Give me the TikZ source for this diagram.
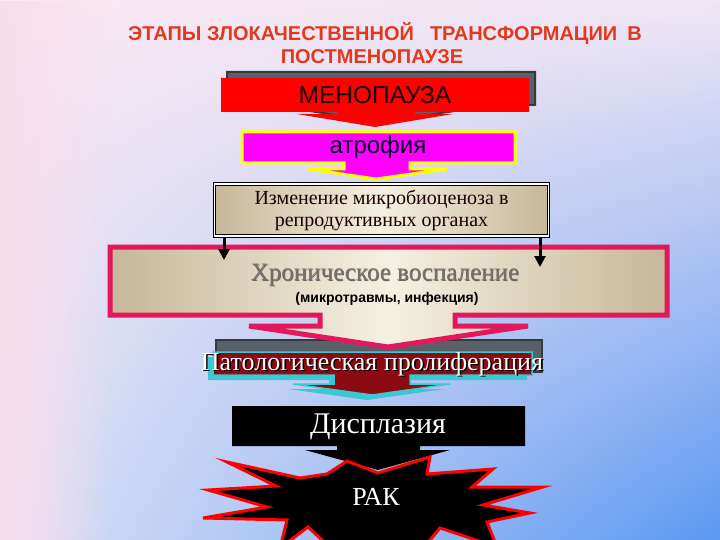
\documentclass[tikz,border=0pt]{standalone}
\usepackage{fontspec}
\setmainfont{Liberation Serif}
\setsansfont{Liberation Sans}
\usetikzlibrary{arrows.meta,fadings,shadings}
\definecolor{bgUL}{HTML}{FAE8F2}
\definecolor{bgUR}{HTML}{F0E6F4}
\definecolor{bgLL}{HTML}{DCE2F6}
\definecolor{bgLR}{HTML}{5C98F2}
\definecolor{pinkedge}{HTML}{F9DDEB}
\definecolor{titlered}{HTML}{E03A1E}
\definecolor{menored}{HTML}{FE0000}
\definecolor{magentab}{HTML}{FF00FF}
\definecolor{yellowb}{HTML}{FFFF00}
\definecolor{shgray}{HTML}{5A6068}
\definecolor{shdark}{HTML}{353A40}
\definecolor{parch1}{HTML}{F5F0E2}
\definecolor{parch2}{HTML}{C6B898}
\definecolor{crimson}{HTML}{E2175C}
\definecolor{graytext}{HTML}{787068}
\definecolor{darkred}{HTML}{8C0A12}
\definecolor{cyanb}{HTML}{3CC8D0}
\tikzset{
  titletext/.style={font=\sffamily\bfseries\fontsize{20}{22}\selectfont, text=titlered, inner sep=0pt},
  shadowbox/.style={fill=shgray, draw=shdark, line width=2pt},
  parchfill/.style={left color=parch2, right color=parch2, middle color=parch1},
  blkarrow/.style={line width=3pt, -{Triangle[length=11pt,width=11pt]}},
}
\begin{document}
\begin{tikzpicture}[x=1pt,y=-1pt]
\useasboundingbox (0,0) rectangle (720,540);
% background
\shade[upper left=bgUL, upper right=bgUR, lower left=bgLL, lower right=bgLR] (0,0) rectangle (720,540);
\fill[pinkedge, path fading=east] (0,0) rectangle (110,540);

% title
\node[titletext] (t1) at (385,33) {ЭТАПЫ ЗЛОКАЧЕСТВЕННОЙ\hspace{0.8em}ТРАНСФОРМАЦИИ\hspace{0.5em}В};
\node[titletext] (t2) at (372,57) {ПОСТМЕНОПАУЗЕ};

% menopause callout
\begin{scope}[shift={(6,-6)}]
\path[shadowbox] (221,78) -- (529,78) -- (529,111) -- (415,111) -- (415,116) -- (455,116) -- (376,128) -- (297,116) -- (337,116) -- (337,111) -- (221,111) -- cycle;
\end{scope}
\fill[menored] (221,78) -- (529,78) -- (529,112) -- (415,112) -- (415,114) -- (453,114) -- (375,127) -- (297,114) -- (337,114) -- (337,112) -- (221,112) -- cycle;
\node[font=\sffamily\fontsize{24.5}{26}\selectfont, text=black!90!red] (meno) at (375,95) {МЕНОПАУЗА};

% atrophy callout
\path[fill=magentab, draw=yellowb, line width=3pt] (242,132) -- (515,132) -- (515,163) -- (410,163) -- (410,169) -- (447,169) -- (376,179) -- (308,169) -- (344,169) -- (344,163) -- (242,163) -- cycle;
\node[font=\sffamily\fontsize{24}{26}\selectfont, text=black!85!blue] (atro) at (378,147) {атрофия};

% proliferation shadow frame (lies under the chronic arrow tip)
\path[shadowbox] (216,340) rectangle (542,372);

% chronic inflammation callout
\path[parchfill, draw=crimson, line width=5pt] (110,247) -- (667,247) -- (667,315) -- (455,315) -- (455,326) -- (528,326) -- (388,347) -- (249,326) -- (320,326) -- (320,315) -- (110,315) -- cycle;
\node[font=\fontsize{25}{27}\selectfont, text=black!60] (chronsh) at (385.6,275.6) {Хроническое воспаление};
\node[font=\fontsize{25}{27}\selectfont, text=graytext] (chron) at (385,275) {Хроническое воспаление};
\node[font=\sffamily\bfseries\fontsize{14}{16}\selectfont, text=black] (chronsub) at (387,299) {(микротравмы, инфекция)};

% microbiocenosis box
\node[parchfill, draw=black, line width=1.2pt, double=white, double distance=1.5pt,
      minimum width=334pt, minimum height=52pt, inner sep=0pt, align=center,
      font=\fontsize{20}{22}\selectfont, text=black!90!red] (mikro) at (381.5,210)
      {Изменение микробиоценоза в\\репродуктивных органах};

% arrows from microbiocenosis to chronic inflammation
\coordinate (lt) at (224,260);
\coordinate (rt) at (540,267);
\draw[blkarrow] (224,237) -- (lt);
\draw[blkarrow] (540,237) -- (rt);

% proliferation callout (cyan offset layer, then dark red)
\begin{scope}[shift={(-5,5)}]
\fill[cyanb] (213,352) -- (532,352) -- (532,375) -- (410,375) -- (410,384) -- (450,384) -- (372,395) -- (293,384) -- (334,384) -- (334,375) -- (213,375) -- cycle;
\end{scope}
\path[fill=darkred, draw=cyanb, line width=1.5pt] (213,352) -- (532,352) -- (532,375) -- (410,375) -- (410,384) -- (450,384) -- (372,395) -- (293,384) -- (334,384) -- (334,375) -- (213,375) -- cycle;
\node[font=\fontsize{26}{28}\selectfont, text=black] (prolsh) at (373.5,365.5) {Патологическая пролиферация};
\node[font=\fontsize{26}{28}\selectfont, text=white] (prol) at (372,364) {Патологическая пролиферация};

% dysplasia callout
\fill[black] (232,406) -- (525,406) -- (525,446) -- (420,446) -- (420,450) -- (450,450) -- (378,470) -- (305,450) -- (337,450) -- (337,446) -- (232,446) -- cycle;
\node[font=\fontsize{30}{32}\selectfont, text=white] (dysp) at (378,427) {Дисплазия};

% cancer explosion
\path[fill=black, draw=red, line width=3pt, line join=miter]
  (227,462) -- (300,478) -- (327,474) -- (347,461) -- (378,473) -- (430,457) -- (427,474) -- (493,469) -- (472,487) -- (543,487) -- (483,505) -- (530,513) -- (487,522) -- (497,547) -- (440,528) -- (420,552) -- (335,552) -- (308,527) -- (280,548) -- (287,520) -- (203,518) -- (267,507) -- (208,490) -- (276,486) -- cycle;
\node[font=\fontsize{26}{28}\selectfont, text=white] (rak) at (376,497) {РАК};
\end{tikzpicture}
\end{document}
